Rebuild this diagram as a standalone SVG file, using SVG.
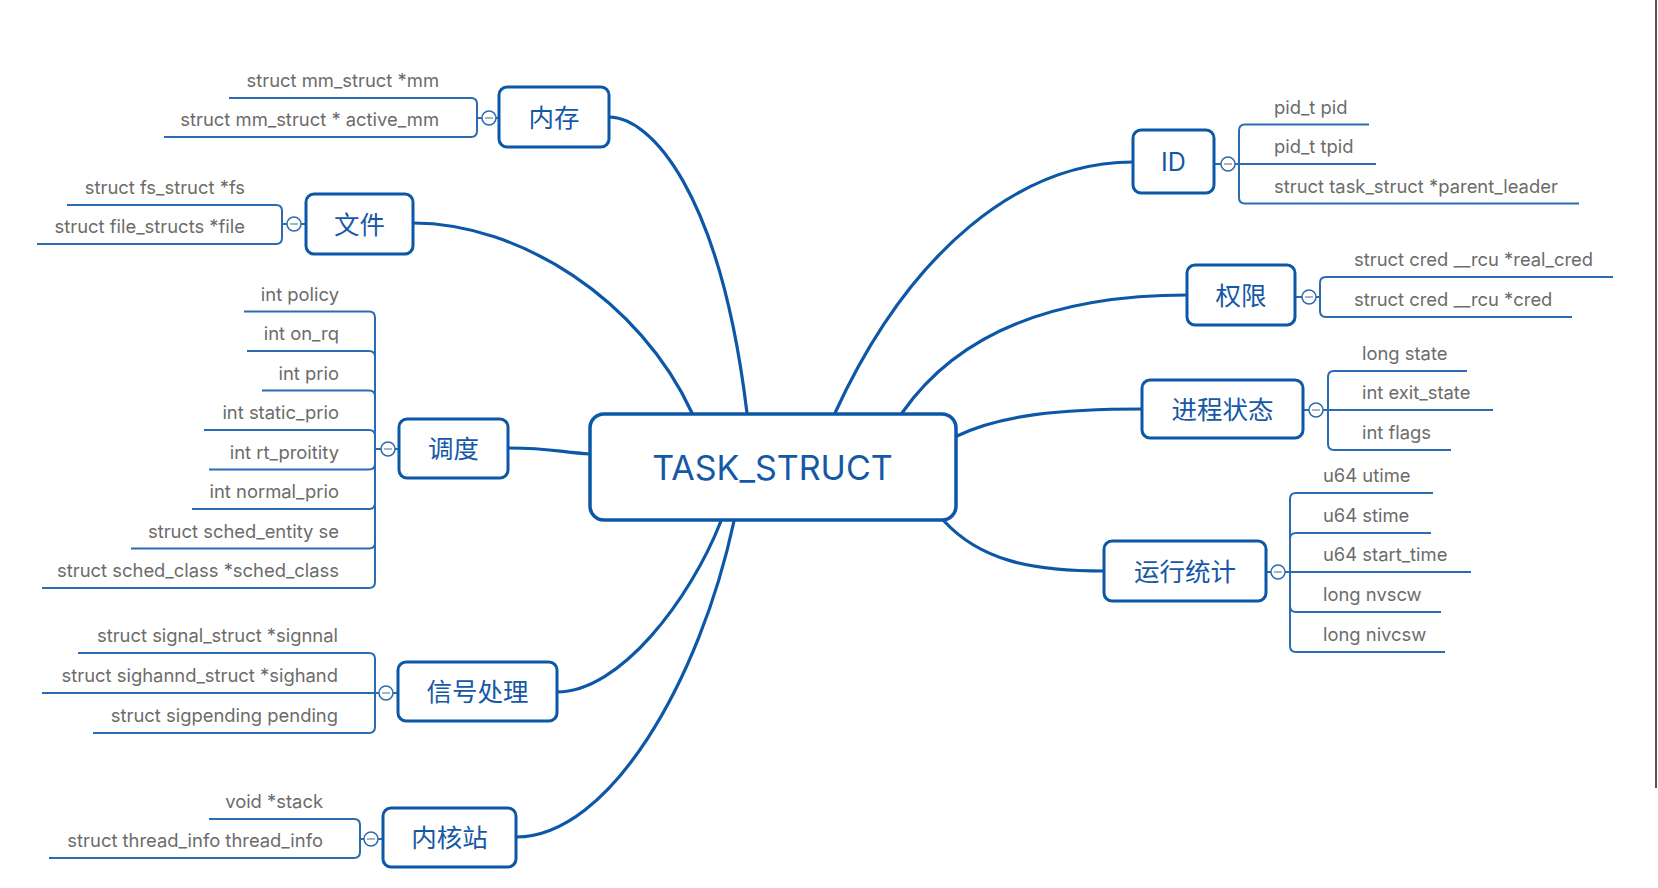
<svg xmlns="http://www.w3.org/2000/svg" width="1658" height="888" viewBox="0 0 1658 888">
<style>
.node rect{fill:#fff;stroke:#0d58a6;stroke-width:3}
.nt{font-family:"Noto Sans CJK SC","Noto Sans",sans-serif;font-size:25.5px;fill:#1558a6;text-anchor:middle;dominant-baseline:central}
.ct{font-family:Inter,"Liberation Sans",sans-serif;font-size:34px;fill:#1558a6;text-anchor:middle;dominant-baseline:central}
.lt{font-family:Inter,"Liberation Sans",sans-serif;font-size:18.4px;fill:#6c6c6c}
.l .lt{text-anchor:end}
.ul{fill:none;stroke:#2a6bb3;stroke-width:2}
.br{fill:none;stroke:#2a6bb3;stroke-width:2}
.conn{fill:none;stroke:#0d58a6;stroke-width:3.2;stroke-linecap:round}
.tog{fill:#fff;stroke:#2a6bb3;stroke-width:1.5}
.tm{stroke:#8f9bb0;stroke-width:1.5}
</style>
<rect width="1658" height="888" fill="#fff"/>
<line x1="1656" y1="0" x2="1656" y2="788" stroke="#555" stroke-width="2"/>

<g id="connectors">
  <path class="conn" d="M609,117 C650,117 720,190 747,413"/>
  <path class="conn" d="M413,223 C520,223 640,300 692,413"/>
  <path class="conn" d="M508,448 C550,448 560,452 590,454"/>
  <path class="conn" d="M557,692 C620,692 690,600 721,521"/>
  <path class="conn" d="M516,837 C610,837 700,680 734,521"/>
  <path class="conn" d="M835,413 C910,250 1020,162 1133,162"/>
  <path class="conn" d="M902,413 C960,330 1060,295 1187,295"/>
  <path class="conn" d="M957,436 C1000,415 1060,409 1142,409"/>
  <path class="conn" d="M944,521 C980,560 1030,571 1104,571"/>
  <!-- branch brackets -->
  <path class="br" d="M482,118 H477 V104 Q477,98 471,98 M477,118 V131 Q477,137 471,137 M496,118 H499"/>
  <path class="br" d="M287,224 H282 V211 Q282,205 276,205 M282,224 V238 Q282,244 276,244 M301,224 H306"/>
  <path class="br" d="M381,449 H375 V317.5 Q375,311.5 369,311.5 M375,357 Q375,351 369,351 M375,396.5 Q375,390.5 369,390.5 M375,436 Q375,430 369,430 M375,449 V582 Q375,588 369,588 M375,542.5 Q375,548.5 369,548.5 M375,503 Q375,509 369,509 M375,463.5 Q375,469.5 369,469.5 M395,449 H399"/>
  <path class="br" d="M379,693 H375 V659 Q375,653 369,653 M375,693 V727 Q375,733 369,733 M393,693 H398"/>
  <path class="br" d="M364,839 H360 V825 Q360,819 354,819 M360,839 V852 Q360,858 354,858 M378,839 H383"/>
  <path class="br" d="M1214,164 H1221 M1235,164 H1239 V130.5 Q1239,124.5 1245,124.5 M1239,164 V197.5 Q1239,203.5 1245,203.5"/>
  <path class="br" d="M1295,297 H1302 M1316,297 H1320 V283 Q1320,277 1326,277 M1320,297 V311 Q1320,317 1326,317"/>
  <path class="br" d="M1303,410 H1309 M1323,410 H1328 V377 Q1328,371 1334,371 M1328,410 V444 Q1328,450 1334,450"/>
  <path class="br" d="M1266,572 H1271 M1285,572 H1290 V499 Q1290,493 1296,493 M1290,539 Q1290,533 1296,533 M1290,572 V646 Q1290,652 1296,652 M1290,606 Q1290,612 1296,612"/>
</g>

<g id="task_struct" class="node">
  <rect x="590" y="414" width="366" height="106" rx="14" style="stroke-width:3.5"/>
  <text class="ct" x="772.5" y="467">TASK_STRUCT</text>
</g>

<g id="mem" class="node">
  <rect x="499" y="87" width="110" height="60" rx="8"/>
  <text class="nt" x="554" y="115">内存</text>
  <circle class="tog" cx="489" cy="118" r="7"/><line class="tm" x1="485" y1="118" x2="493" y2="118"/>
</g>
<g id="mem_leaves" class="l">
  <g id="mem_mm"><path class="ul" d="M471,98 H229"/><text class="lt" x="439" y="87">struct mm_struct *mm</text></g>
  <g id="mem_active"><path class="ul" d="M471,137 H164"/><text class="lt" x="439" y="126">struct mm_struct * active_mm</text></g>
</g>

<g id="file" class="node">
  <rect x="306" y="194" width="107" height="60" rx="8"/>
  <text class="nt" x="359.5" y="222">文件</text>
  <circle class="tog" cx="294" cy="224" r="7"/><line class="tm" x1="290" y1="224" x2="298" y2="224"/>
</g>
<g id="file_leaves" class="l">
  <g id="file_fs"><path class="ul" d="M276,205 H67"/><text class="lt" x="245" y="194">struct fs_struct *fs</text></g>
  <g id="file_files"><path class="ul" d="M276,244 H37"/><text class="lt" x="245" y="233">struct file_structs *file</text></g>
</g>

<g id="sched" class="node">
  <rect x="399" y="419" width="109" height="59" rx="8"/>
  <text class="nt" x="453.5" y="446.5">调度</text>
  <circle class="tog" cx="388" cy="449" r="7"/><line class="tm" x1="384" y1="449" x2="392" y2="449"/>
</g>
<g id="sched_leaves" class="l">
  <g id="s1"><path class="ul" d="M369,311.5 H244"/><text class="lt" x="339" y="300.5">int policy</text></g>
  <g id="s2"><path class="ul" d="M369,351 H247"/><text class="lt" x="339" y="340">int on_rq</text></g>
  <g id="s3"><path class="ul" d="M369,390.5 H262"/><text class="lt" x="339" y="379.5">int prio</text></g>
  <g id="s4"><path class="ul" d="M369,430 H204"/><text class="lt" x="339" y="419">int static_prio</text></g>
  <g id="s5"><path class="ul" d="M369,469.5 H209"/><text class="lt" x="339" y="458.5">int rt_proitity</text></g>
  <g id="s6"><path class="ul" d="M369,509 H192"/><text class="lt" x="339" y="498">int normal_prio</text></g>
  <g id="s7"><path class="ul" d="M369,548.5 H131"/><text class="lt" x="339" y="537.5">struct sched_entity se</text></g>
  <g id="s8"><path class="ul" d="M369,588 H42"/><text class="lt" x="339" y="577">struct sched_class *sched_class</text></g>
</g>

<g id="signal" class="node">
  <rect x="398" y="662" width="159" height="59" rx="8"/>
  <text class="nt" x="477.5" y="689.5">信号处理</text>
  <circle class="tog" cx="386" cy="693" r="7"/><line class="tm" x1="382" y1="693" x2="390" y2="693"/>
</g>
<g id="signal_leaves" class="l">
  <g id="sig1"><path class="ul" d="M369,653 H78"/><text class="lt" x="338" y="642">struct signal_struct *signnal</text></g>
  <g id="sig2"><path class="ul" d="M375,693 H42"/><text class="lt" x="338" y="682">struct sighannd_struct *sighand</text></g>
  <g id="sig3"><path class="ul" d="M369,733 H93"/><text class="lt" x="338" y="722">struct sigpending pending</text></g>
</g>

<g id="kstack" class="node">
  <rect x="383" y="808" width="133" height="59" rx="8"/>
  <text class="nt" x="449.5" y="835.5">内核站</text>
  <circle class="tog" cx="371" cy="839" r="7"/><line class="tm" x1="367" y1="839" x2="375" y2="839"/>
</g>
<g id="kstack_leaves" class="l">
  <g id="k1"><path class="ul" d="M354,819 H209"/><text class="lt" x="323" y="808">void *stack</text></g>
  <g id="k2"><path class="ul" d="M354,858 H49"/><text class="lt" x="323" y="847">struct thread_info thread_info</text></g>
</g>

<g id="id" class="node">
  <rect x="1133" y="130" width="81" height="63" rx="8"/>
  <text class="nt" x="1173.5" y="162" style="font-family:Inter,'Liberation Sans',sans-serif;font-size:25px">ID</text>
  <circle class="tog" cx="1228" cy="164" r="7"/><line class="tm" x1="1224" y1="164" x2="1232" y2="164"/>
</g>
<g id="id_leaves">
  <g id="id1"><path class="ul" d="M1245,124.5 H1369"/><text class="lt" x="1274" y="113.5">pid_t pid</text></g>
  <g id="id2"><path class="ul" d="M1239,164 H1376"/><text class="lt" x="1274" y="153">pid_t tpid</text></g>
  <g id="id3"><path class="ul" d="M1245,203.5 H1579"/><text class="lt" x="1274" y="192.5">struct task_struct *parent_leader</text></g>
</g>

<g id="perm" class="node">
  <rect x="1187" y="265" width="108" height="60" rx="8"/>
  <text class="nt" x="1241" y="293">权限</text>
  <circle class="tog" cx="1309" cy="297" r="7"/><line class="tm" x1="1305" y1="297" x2="1313" y2="297"/>
</g>
<g id="perm_leaves">
  <g id="p1"><path class="ul" d="M1326,277 H1613"/><text class="lt" x="1354" y="266">struct cred __rcu *real_cred</text></g>
  <g id="p2"><path class="ul" d="M1326,317 H1572"/><text class="lt" x="1354" y="306">struct cred __rcu *cred</text></g>
</g>

<g id="state" class="node">
  <rect x="1142" y="380" width="161" height="58" rx="8"/>
  <text class="nt" x="1222.5" y="407">进程状态</text>
  <circle class="tog" cx="1316" cy="410" r="7"/><line class="tm" x1="1312" y1="410" x2="1320" y2="410"/>
</g>
<g id="state_leaves">
  <g id="st1"><path class="ul" d="M1334,371 H1467"/><text class="lt" x="1362" y="360">long state</text></g>
  <g id="st2"><path class="ul" d="M1328,410 H1493"/><text class="lt" x="1362" y="399">int exit_state</text></g>
  <g id="st3"><path class="ul" d="M1334,450 H1451"/><text class="lt" x="1362" y="439">int flags</text></g>
</g>

<g id="stats" class="node">
  <rect x="1104" y="541" width="162" height="60" rx="8"/>
  <text class="nt" x="1185" y="569">运行统计</text>
  <circle class="tog" cx="1278" cy="572" r="7"/><line class="tm" x1="1274" y1="572" x2="1282" y2="572"/>
</g>
<g id="stats_leaves">
  <g id="r1"><path class="ul" d="M1296,493 H1433"/><text class="lt" x="1323" y="482">u64 utime</text></g>
  <g id="r2"><path class="ul" d="M1296,533 H1431"/><text class="lt" x="1323" y="522">u64 stime</text></g>
  <g id="r3"><path class="ul" d="M1290,572 H1471"/><text class="lt" x="1323" y="561">u64 start_time</text></g>
  <g id="r4"><path class="ul" d="M1296,612 H1441"/><text class="lt" x="1323" y="601">long nvscw</text></g>
  <g id="r5"><path class="ul" d="M1296,652 H1445"/><text class="lt" x="1323" y="641">long nivcsw</text></g>
</g>
</svg>
